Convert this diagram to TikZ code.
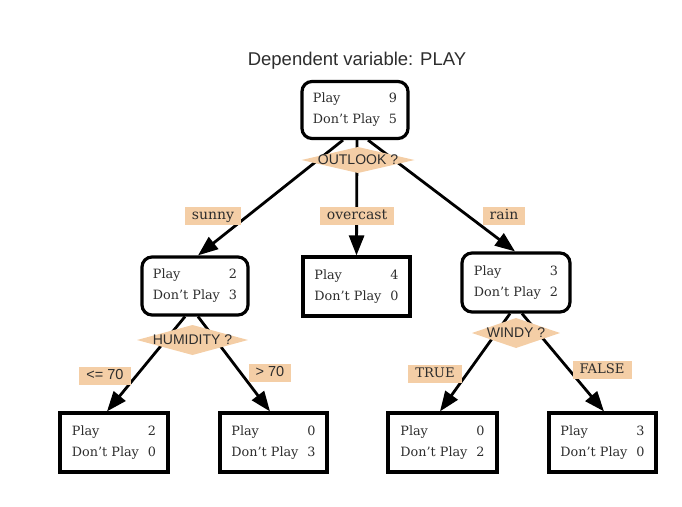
\documentclass[tikz,border=0pt]{standalone}
\usepackage{fontspec}
\setmainfont{DejaVu Serif}
\newfontfamily\labelsans{Liberation Sans}
\usetikzlibrary{arrows.meta,backgrounds}
\definecolor{peach}{RGB}{244,206,166}
\definecolor{ink}{RGB}{45,45,45}
\newcommand{\tally}[2]{\begin{tabular}{@{}l@{\hspace{9pt}}r@{}}Play & #1\\[6pt] Don't Play & #2\end{tabular}}

\begin{document}
\begin{tikzpicture}[x=1pt,y=-1pt,
    round box/.style={draw, line width=3.2pt, rounded corners=10pt, minimum width=106pt,
      minimum height=58pt, inner sep=0pt, text=ink, font=\fontsize{12.8}{15}\selectfont},
    leaf box/.style={round box, sharp corners},
    question/.style={text=ink, inner sep=0pt, font=\labelsans\fontsize{14}{16}\selectfont},
    branch/.style={fill=peach, text=ink, inner xsep=7pt, inner ysep=3pt, text height=9.5pt,
      text depth=2.5pt, font=\fontsize{14}{16}\selectfont},
    link/.style={line width=2.8pt, -{Triangle[length=20pt,width=15pt]}}]
   \useasboundingbox (0,0) rectangle (682,506);

   \node[text=ink, font=\labelsans\fontsize{18.5}{20}\selectfont] (title) at (357,61) {Dependent variable: PLAY};

   % boxes
   \node[round box, minimum height=57pt] (root) at (355,110) {\tally{9}{5}};
   \node[round box] (sunny) at (195,286) {\tally{2}{3}};
   \node[leaf box, minimum width=107pt, minimum height=59pt] (overcast) at (356.5,286.5) {\tally{4}{0}};
   \node[round box, minimum width=108pt, minimum height=59pt] (rain) at (516,282.5) {\tally{3}{2}};
   \node[leaf box, minimum width=108pt, minimum height=59pt] (low) at (114,442.5) {\tally{2}{0}};
   \node[leaf box, minimum width=107pt, minimum height=59pt] (high) at (273.5,442.5) {\tally{0}{3}};
   \node[leaf box, minimum width=109pt, minimum height=59pt] (windy) at (442.5,442.5) {\tally{0}{2}};
   \node[leaf box, minimum width=107pt, minimum height=59pt] (calm) at (602.5,442.5) {\tally{3}{0}};

   % tests
   \node[question] (outlook) at (358,160) {OUTLOOK ?};
   \node[question] (humidity) at (192.5,340) {HUMIDITY ?};
   \node[question] (windq) at (516,333) {WINDY ?};

   % branch labels
   \node[branch] (lsunny) at (213,216) {sunny};
   \node[branch] (lovercast) at (357,216) {overcast};
   \node[branch] (lrain) at (504,216) {rain};
   \node[branch, font=\labelsans\fontsize{14.5}{16}\selectfont] (llow) at (105,376) {<= 70};
   \node[branch, font=\labelsans\fontsize{14.5}{16}\selectfont] (lhigh) at (270,373) {> 70};
   \node[branch, font=\fontsize{13.2}{15}\selectfont] (ltrue) at (435,374) {TRUE};
   \node[branch, font=\fontsize{13.2}{15}\selectfont] (lfalse) at (602,370) {FALSE};

   \begin{pgfonlayer}{background}
     \draw[link] ([xshift=-12pt]root.south) -- ([xshift=3pt]sunny.north);
     \draw[link] ([xshift=2pt]root.south) -- (overcast.north);
     \draw[link] ([xshift=13pt]root.south) -- ([xshift=-1pt]rain.north);
     \draw[link] ([xshift=-10pt]sunny.south) -- ([xshift=-7pt]low.north);
     \draw[link] ([xshift=3pt]sunny.south) -- ([xshift=-3.5pt]high.north);
     \draw[link] ([xshift=-6pt]rain.south) -- ([xshift=-2.5pt]windy.north);
     \draw[link] ([xshift=6pt]rain.south) -- ([xshift=1.5pt]calm.north);
     % diamonds
     \fill[peach] (outlook.center) +(-56.5,0) -- +(0,-13) -- +(56.5,0) -- +(0,13) -- cycle;
     \fill[peach] (humidity.center) +(-55.5,0) -- +(0,-15) -- +(55.5,0) -- +(0,15) -- cycle;
     \fill[peach] (windq.center) +(-44,0) -- +(0,-15) -- +(44,0) -- +(0,15) -- cycle;
   \end{pgfonlayer}
\end{tikzpicture}
\end{document}
